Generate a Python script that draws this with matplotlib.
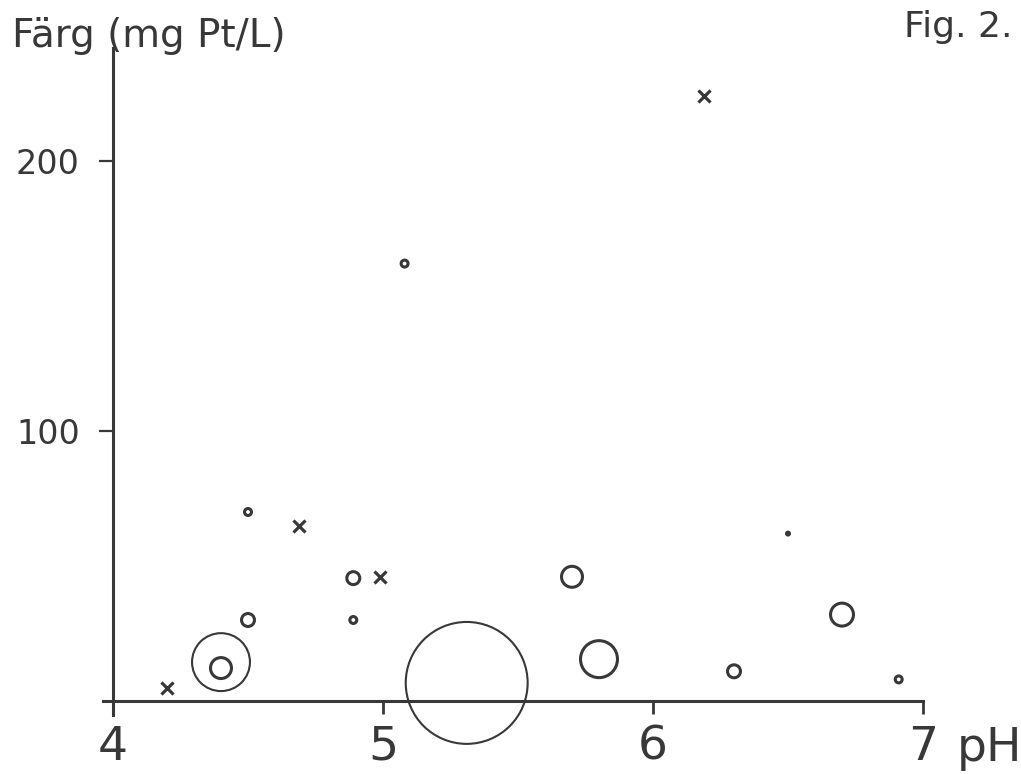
import matplotlib.pyplot as plt

ink = '#383838'

# kryss (x)
kryss_ph = [4.20, 4.69, 4.99, 6.19]
kryss_farg = [4.8, 65, 46, 224]

# ringar, storlek = ringens radie (relativ)
ring_ph = [4.50, 4.50, 4.40, 4.40, 4.89, 4.89, 5.08, 5.31, 5.70, 5.80, 6.30, 6.50, 6.70, 6.91]
ring_farg = [70, 30, 12.2, 14.4, 45.5, 30, 162, 6.7, 46, 15.5, 11, 62, 32, 8]
ring_storlek = [5, 8, 12, 30, 8, 5, 5, 62, 12, 20, 8, 3, 13, 5]

x_ticks = [4, 5, 6, 7]
y_ticks = [100, 200]

W, H = 1021, 774
fig = plt.figure(figsize=(W / 100, H / 100), dpi=100)
ax = fig.add_axes([103 / W, 59.5 / H, 820 / W, 666.9 / H])
ax.set_xlim(3.963, 7.0)
ax.set_ylim(-5, 242)

for s in ['top', 'right']:
    ax.spines[s].set_visible(False)
ax.spines['left'].set_position(('data', 4))
ax.spines['bottom'].set_position(('data', 0))
for s in ['left', 'bottom']:
    ax.spines[s].set_linewidth(2.2)
    ax.spines[s].set_color(ink)

ax.set_xticks(x_ticks)
ax.set_yticks(y_ticks)
ax.tick_params(axis='x', direction='out', length=9, width=2, pad=8,
               labelsize=34, colors=ink)
ax.tick_params(axis='y', direction='out', length=10, width=1.6, pad=14,
               labelsize=24, colors=ink)

# ringar: radie i pixlar -> scatter-storlek (punkter^2)
lws = [2.2 if r < 25 else 1.5 for r in ring_storlek]
sizes = [(2 * (r - lw / 0.72 / 2) * 0.72) ** 2 for r, lw in zip(ring_storlek, lws)]
ax.scatter(ring_ph, ring_farg, s=sizes, facecolors='none', edgecolors=ink,
           linewidths=lws, clip_on=False, zorder=3)

ax.plot(kryss_ph, kryss_farg, 'x', color=ink, markersize=9, mew=2.3,
        clip_on=False, zorder=3)

ax.annotate('pH', xy=(7, 0), xytext=(24, -43), textcoords='offset points',
            fontsize=34, va='baseline', ha='left', color=ink)

fig.text(12 / W, 1 - 47 / H, 'Färg (mg Pt/L)', fontsize=28, va='baseline',
         ha='left', color=ink)
fig.text(1012 / W, 1 - 37 / H, 'Fig. 2.', fontsize=26, va='baseline',
         ha='right', color=ink)

fig.savefig('out.png', dpi=100, facecolor='white')
